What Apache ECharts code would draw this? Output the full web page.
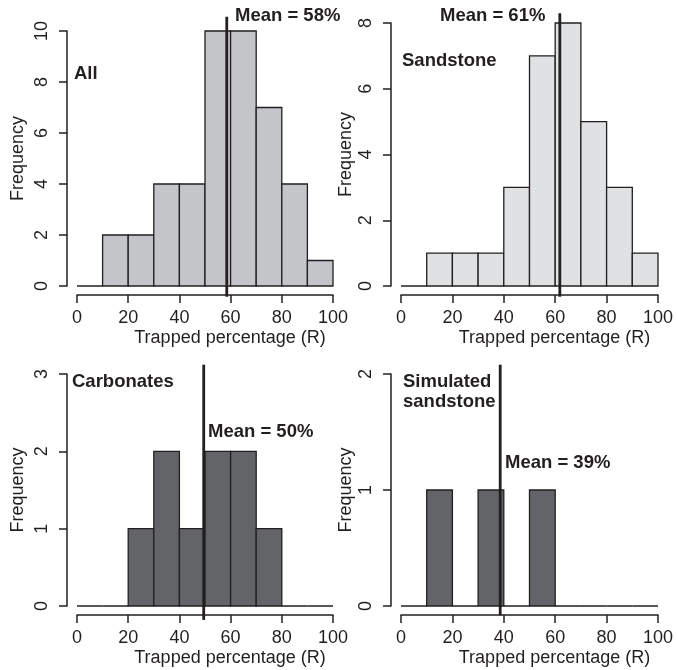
<!DOCTYPE html>
<html><head><meta charset="utf-8">
<script src="https://cdn.jsdelivr.net/npm/echarts@6/dist/echarts.min.js"></script>
<style>html,body{margin:0;padding:0;background:#fff}#c{width:678px;height:670px}</style>
</head><body><div id="c"></div>
<script>
// ---- data ----
const binEdges = [0,10,20,30,40,50,60,70,80,90,100];
const countsAll = [0,2,2,4,4,10,10,7,4,1];
const countsSandstone = [0,1,1,1,3,7,8,5,3,1];
const countsCarbonates = [0,0,1,2,1,2,2,1,0,0];
const countsSimulated = [0,1,0,1,0,1,0,0,0,0];
const means = [58.5, 61.8, 49.5, 38.6];
const meanLabels = ['Mean = 58%','Mean = 61%','Mean = 50%','Mean = 39%'];
const panelNames = ['All','Sandstone','Carbonates','Simulated\nsandstone'];
const xTicks = [0,20,40,60,80,100];
const yMax = [10,8,3,2];
const yInterval = [2,2,1,1];
const meanLineTop = [10.56, 8.3, 3.12, 2.08];
const meanLineBottom = [-0.42, -0.33, -0.18, -0.08];
const xAxisTitle = 'Trapped percentage (R)';
const yAxisTitle = 'Frequency';

// ---- layout / style ----
const INK = '#231f20';
const FONT = '"Liberation Sans", Arial, sans-serif';
const allCounts = [countsAll, countsSandstone, countsCarbonates, countsSimulated];
const layout = [
  {left:77, top:31, width:256, height:255, fill:'#c4c5c9', yGap:40, nameLabel:[74,74], meanLabel:[235,16]},
  {left:401, top:23, width:257, height:263, fill:'#e0e1e3', yGap:36, nameLabel:[402,61], meanLabel:[440,16]},
  {left:77, top:374, width:256, height:232, fill:'#636467', yGap:40, nameLabel:[72,382], meanLabel:[208,432]},
  {left:401, top:374, width:257, height:232, fill:'#636467', yGap:36, nameLabel:[403,392], meanLabel:[505,463]}
];

const grids = [], xAxes = [], yAxes = [], series = [], graphics = [];
layout.forEach((L, i) => {
  grids.push({left:L.left, top:L.top, width:L.width, height:L.height, containLabel:false, outerBoundsMode:'none'});
  xAxes.push({
    gridIndex:i, type:'value', min:xTicks[0], max:xTicks[xTicks.length-1], interval:xTicks[1]-xTicks[0], offset:9,
    axisLine:{show:true, onZero:false, lineStyle:{color:INK, width:1.5}},
    axisTick:{show:true, length:8, lineStyle:{color:INK, width:1.5}},
    splitLine:{show:false},
    axisLabel:{fontSize:18, color:INK, fontFamily:FONT, margin:14},
    name:xAxisTitle, nameLocation:'middle', nameGap:34,
    nameTextStyle:{fontSize:18, color:INK, fontFamily:FONT, padding:[0,0,0,50]}
  });
  yAxes.push({
    gridIndex:i, type:'value', min:0, max:yMax[i], interval:yInterval[i], offset:10,
    axisLine:{show:true, onZero:false, lineStyle:{color:INK, width:1.5}},
    axisTick:{show:true, length:8, lineStyle:{color:INK, width:1.5}},
    splitLine:{show:false},
    axisLabel:{fontSize:18, color:INK, fontFamily:FONT, rotate:90, margin:16},
    name:yAxisTitle, nameLocation:'middle', nameGap:L.yGap,
    nameTextStyle:{fontSize:18, color:INK, fontFamily:FONT}
  });
  const data = allCounts[i].map((c, k) => [binEdges[k], binEdges[k+1], c]);
  series.push({
    type:'custom', xAxisIndex:i, yAxisIndex:i, data:data, clip:false,
    encode:{x:[0,1], y:2},
    renderItem:(params, api) => {
      const p0 = api.coord([api.value(0), api.value(2)]);
      const p1 = api.coord([api.value(1), 0]);
      return {type:'rect', shape:{x:p0[0], y:p0[1], width:p1[0]-p0[0], height:p1[1]-p0[1]},
        style:{fill:L.fill, stroke:INK, lineWidth:1.3}};
    }
  });
  series.push({
    type:'custom', xAxisIndex:i, yAxisIndex:i, clip:false, z:5,
    data:[[means[i], meanLineTop[i], meanLineBottom[i]]],
    encode:{x:0, y:[1,2]},
    renderItem:(params, api) => {
      const a = api.coord([api.value(0), api.value(1)]);
      const b = api.coord([api.value(0), api.value(2)]);
      return {type:'line', shape:{x1:a[0], y1:a[1], x2:b[0], y2:b[1]},
        style:{stroke:INK, lineWidth:2.8}};
    }
  });
  graphics.push({type:'text', x:L.nameLabel[0], y:L.nameLabel[1], z:10,
    style:{text:panelNames[i], font:'bold 18.5px ' + FONT, fill:INK, align:'left', verticalAlign:'middle', lineHeight:19.5}});
  graphics.push({type:'text', x:L.meanLabel[0], y:L.meanLabel[1], z:10,
    style:{text:meanLabels[i], font:'bold 18.5px ' + FONT, fill:INK, align:'left', verticalAlign:'middle'}});
});

const chart = echarts.init(document.getElementById('c'), null, {renderer:'canvas'});
chart.setOption({
  animation:false,
  backgroundColor:'#ffffff',
  grid:grids, xAxis:xAxes, yAxis:yAxes, series:series, graphic:graphics
});
</script></body></html>
